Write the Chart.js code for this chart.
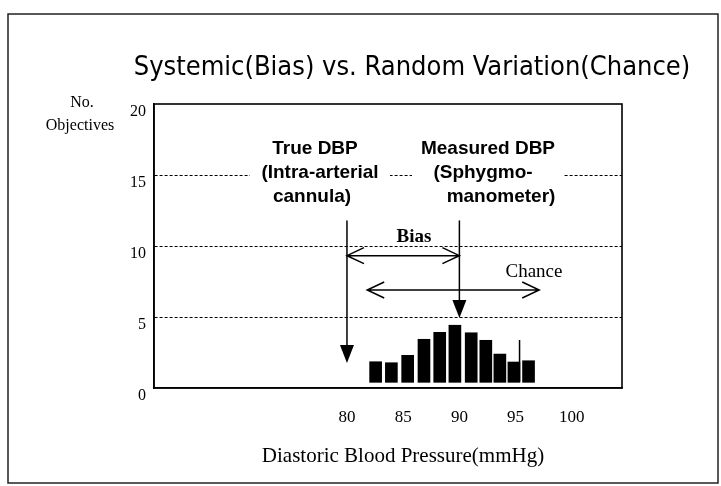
<!DOCTYPE html>
<html>
<head>
<meta charset="utf-8">
<script src="https://cdn.jsdelivr.net/npm/chart.js@4.4.1/dist/chart.umd.min.js"></script>
<style>
  html, body { margin: 0; padding: 0; background: #fff; }
  #marco { width: 721px; height: 486px; }
</style>
</head>
<body>
<div id="marco"><canvas id="grafico"></canvas></div>
<script>
// datos
const presion = [82.55, 83.95, 85.4, 86.85, 88.25, 89.6, 91.05, 92.35, 93.6, 94.85, 96.15]
const cantidad = [1.85, 1.78, 2.3, 3.43, 3.92, 4.42, 3.89, 3.36, 2.39, 1.83, 1.92]
const baseBarra = 0.4
const ticksX = [80, 85, 90, 95, 100]
const ticksY = [0, 5, 10, 15, 20]
const lineaSuelta = [{ x: 95.35, y: 0.44 }, { x: 95.35, y: 3.38 }]
const dbpReal = 80
const dbpMedida = 90
const flechaReal = [11.8, 1.76]   // desde, hasta (eje y)
const flechaMedida = [11.8, 4.93]
const sesgo = { y: 9.32, desde: 80, hasta: 90 }
const azar = { y: 6.9, desde: 81.8, hasta: 97.1 }
const textoReal = ["True DBP", "(Intra-arterial", "cannula)"]
const textoMedido = ["Measured DBP", "(Sphygmo-", "manometer)"]

const barras = presion.map((p, i) => ({ x: p, y: [baseBarra, cantidad[i]] }))

function flechaVertical(ctx, x, y1, y2) {
    ctx.beginPath()
    ctx.moveTo(x, y1)
    ctx.lineTo(x, y2 - 17)
    ctx.stroke()
    ctx.beginPath()
    ctx.moveTo(x - 7, y2 - 18)
    ctx.lineTo(x + 7, y2 - 18)
    ctx.lineTo(x, y2)
    ctx.closePath()
    ctx.fill()
}

function flechaDoble(ctx, x1, x2, y) {
    ctx.beginPath()
    ctx.moveTo(x1, y)
    ctx.lineTo(x2, y)
    ctx.moveTo(x1 + 17, y - 8)
    ctx.lineTo(x1, y)
    ctx.lineTo(x1 + 17, y + 8)
    ctx.moveTo(x2 - 17, y - 8)
    ctx.lineTo(x2, y)
    ctx.lineTo(x2 - 17, y + 8)
    ctx.stroke()
}

const dibujos = {
    id: "dibujos",
    afterDatasetsDraw(chart) {
        const { ctx, chartArea: a, scales: { x, y } } = chart
        ctx.save()
        // cajas blancas que cortan la linea de 15
        ctx.fillStyle = "#fff"
        ctx.fillRect(250, 136, 140, 72)
        ctx.fillRect(412, 136, 151, 72)

        ctx.fillStyle = "#000"
        ctx.textAlign = "center"
        ctx.textBaseline = "middle"
        ctx.font = "bold 19px 'Liberation Sans'"
        const cx1 = [315, 320, 312]
        const cx2 = [488, 483, 501]
        const filas = [149, 173, 197]
        textoReal.forEach((t, i) => ctx.fillText(t, cx1[i], filas[i]))
        textoMedido.forEach((t, i) => ctx.fillText(t, cx2[i], filas[i]))

        ctx.font = "bold 19px 'Liberation Serif'"
        ctx.fillText("Bias", 414, 237)
        ctx.font = "19px 'Liberation Serif'"
        ctx.fillText("Chance", 534, 272)

        ctx.strokeStyle = "#000"
        ctx.lineWidth = 1.5
        flechaVertical(ctx, x.getPixelForValue(dbpReal), y.getPixelForValue(flechaReal[0]), y.getPixelForValue(flechaReal[1]))
        flechaVertical(ctx, x.getPixelForValue(dbpMedida), y.getPixelForValue(flechaMedida[0]), y.getPixelForValue(flechaMedida[1]))
        flechaDoble(ctx, x.getPixelForValue(sesgo.desde), x.getPixelForValue(sesgo.hasta), y.getPixelForValue(sesgo.y))
        flechaDoble(ctx, x.getPixelForValue(azar.desde), x.getPixelForValue(azar.hasta), y.getPixelForValue(azar.y))

        // caja del grafico
        ctx.lineWidth = 1.6
        ctx.strokeRect(a.left, a.top, a.right - a.left, a.bottom - a.top)

        // titulos
        ctx.font = "27px 'DejaVu Sans Condensed', 'DejaVu Sans'"
        ctx.fillText("Systemic(Bias) vs. Random Variation(Chance)", 412, 68)
        ctx.font = "16px 'Liberation Serif'"
        ctx.fillText("No.", 82, 103)
        ctx.fillText("Objectives", 80, 126)
        ctx.font = "21px 'Liberation Serif'"
        ctx.fillText("Diastoric Blood Pressure(mmHg)", 403, 456)

        // marco exterior
        ctx.strokeStyle = "#222"
        ctx.lineWidth = 1.5
        ctx.strokeRect(8, 14, 710, 469)
        ctx.restore()
    }
}

new Chart(document.querySelector("#grafico"), {
    type: "bar",
    data: {
        datasets: [
            {
                type: "bar",
                data: barras,
                backgroundColor: "#000",
                barThickness: 12,
                borderWidth: 0
            },
            {
                type: "line",
                data: lineaSuelta,
                borderColor: "#000",
                borderWidth: 1.5,
                pointRadius: 0
            }
        ]
    },
    options: {
        responsive: true,
        maintainAspectRatio: false,
        animation: false,
        devicePixelRatio: 1,
        layout: { padding: { top: 104, right: 99, left: 0, bottom: 0 } },
        plugins: { legend: { display: false }, tooltip: { enabled: false } },
        scales: {
            x: {
                type: "linear",
                min: 67,
                max: 100.3,
                afterBuildTicks: (s) => { s.ticks = ticksX.map(v => ({ value: v })) },
                afterFit: (s) => { s.height = 98 },
                grid: { display: false },
                border: { display: true, color: "#000", width: 1.6 },
                ticks: {
                    color: "#000",
                    padding: 11,
                    maxRotation: 0,
                    font: { family: "'Liberation Serif'", size: 17 }
                }
            },
            y: {
                min: 0,
                max: 20,
                afterBuildTicks: (s) => { s.ticks = ticksY.map(v => ({ value: v })) },
                afterFit: (s) => { s.width = 154 },
                grid: {
                    drawTicks: false,
                    lineWidth: 1,
                    color: (c) => (c.tick && c.tick.value > 0 && c.tick.value < 20) ? "#000" : "rgba(0,0,0,0)"
                },
                border: { display: true, color: "#000", width: 1.6, dash: [3, 2] },
                ticks: {
                    color: "#000",
                    padding: 8,
                    labelOffset: 8,
                    font: { family: "'Liberation Serif'", size: 16 }
                }
            }
        }
    },
    plugins: [dibujos]
})
</script>
</body>
</html>
